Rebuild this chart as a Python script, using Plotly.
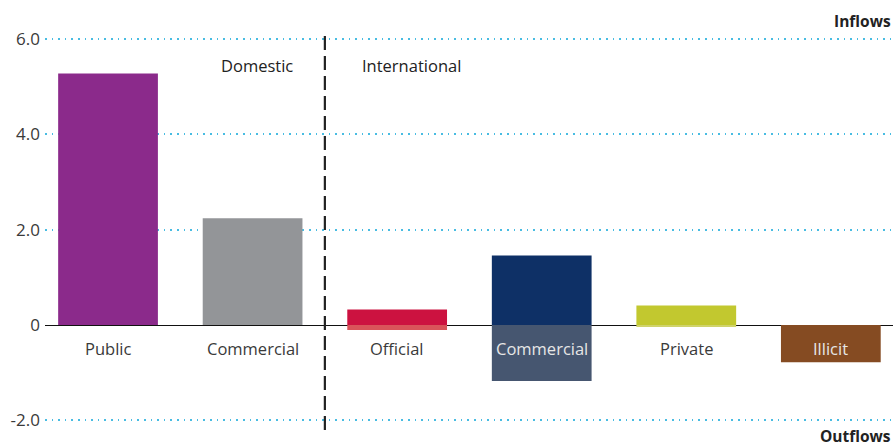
import plotly.graph_objects as go

categories = ["Public", "Commercial", "Official", "Commercial ", "Private", "Illicit"]
inflows = [5.28, 2.24, 0.33, 1.46, 0.41, 0.0]
outflows = [0.0, 0.0, -0.10, -1.17, -0.03, -0.78]
inflow_colors = ["#8b2a8b", "#939598", "#cc1240", "#0e3066", "#c2c82f", "#854b22"]
outflow_colors = ["#8b2a8b", "#939598", "#d9545a", "#465670", "#cfd36a", "#854b22"]
label_colors = ["#3a3a3a", "#3a3a3a", "#3a3a3a", "#e6e6e6", "#3a3a3a", "#e6e6e6"]
tick_vals = [-2, 0, 2, 4, 6]
tick_text = ["-2.0", "0", "2.0", "4.0", "6.0"]

FONT = "Open Sans"
x = list(range(len(categories)))

fig = go.Figure()
fig.add_bar(x=x, y=inflows, marker={"color": inflow_colors, "line": {"width": 0}},
            width=0.69, showlegend=False, hoverinfo="skip")
fig.add_bar(x=x, y=outflows, marker={"color": outflow_colors, "line": {"width": 0}},
            width=0.69, showlegend=False, hoverinfo="skip")

# category labels sit inside the plot just under the zero line
for i, (name, col) in enumerate(zip(categories, label_colors)):
    fig.add_annotation(x=i, y=-0.48, text=name.strip(), showarrow=False,
                       font={"family": FONT, "size": 16.5, "color": col})

fig.add_annotation(x=1.29, y=5.45, text="Domestic", showarrow=False, xanchor="right",
                   font={"family": FONT, "size": 16.5, "color": "#222"})
fig.add_annotation(x=1.74, y=5.45, text="International", showarrow=False, xanchor="left",
                   font={"family": FONT, "size": 16.5, "color": "#222"})
fig.add_annotation(x=1, y=1, xref="paper", yref="paper", yshift=-4, text="<b>Inflows</b>",
                   showarrow=False, xanchor="right", yanchor="bottom",
                   font={"family": FONT, "size": 15.5, "color": "#222"})
fig.add_annotation(x=1, y=0, xref="paper", yref="paper", yshift=7, text="<b>Outflows</b>",
                   showarrow=False, xanchor="right", yanchor="top",
                   font={"family": FONT, "size": 15.5, "color": "#222"})

fig.add_shape(type="line", x0=1.5, x1=1.5, y0=0, y1=1, xref="x", yref="paper",
              line={"color": "#222", "width": 2.2, "dash": "14px,6px"})

fig.update_layout(
    barmode="relative",
    width=893, height=447,
    margin={"l": 45, "r": 0, "t": 30, "b": 17},
    plot_bgcolor="white", paper_bgcolor="white",
    font={"family": FONT, "size": 16.5, "color": "#3a3a3a"},
)
fig.update_xaxes(range=[-0.436, 5.43], showticklabels=False, showgrid=False,
                 zeroline=False, showline=False)
fig.update_yaxes(range=[-2.2, 6.19], tickvals=tick_vals, ticktext=tick_text,
                 tickfont={"size": 17, "color": "#3a3a3a"},
                 showgrid=True, gridcolor="#48bce2", gridwidth=1.6, griddash="1.6px,5px",
                 zeroline=True, zerolinecolor="#111", zerolinewidth=1.2,
                 ticks="", showline=False, ticklabelstandoff=4)

fig.write_html("out.html", config={"displayModeBar": False},
               post_script="document.body.style.margin='0';")
